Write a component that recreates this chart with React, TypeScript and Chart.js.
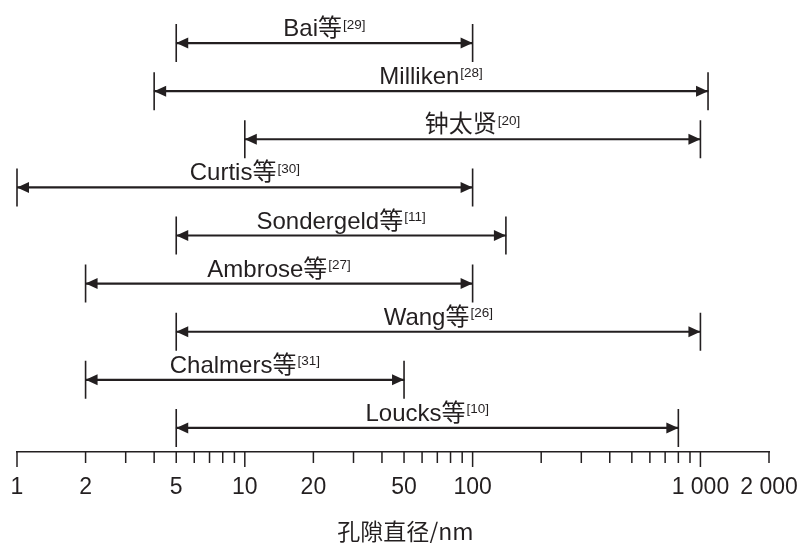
import React, { useEffect, useRef } from 'react';
import { Chart, registerables } from 'chart.js';

Chart.register(...registerables);

const studies = ['Bai等', 'Milliken', '钟太贤', 'Curtis等', 'Sondergeld等', 'Ambrose等', 'Wang等', 'Chalmers等', 'Loucks等'];
const refs = ['[29]', '[28]', '[20]', '[30]', '[11]', '[27]', '[26]', '[31]', '[10]'];
const minDiam = [5, 4, 10, 1, 5, 2, 5, 2, 5];
const maxDiam = [100, 1080, 1000, 100, 140, 100, 1000, 50, 800];

const tickValues = [1, 2, 3, 4, 5, 6, 7, 8, 9, 10, 20, 30, 40, 50, 60, 70, 80, 90, 100, 200, 300, 400, 500, 600, 700, 800, 900, 1000, 2000];
const labeledTicks = [1, 2, 5, 10, 20, 50, 100, 1000, 2000];
const tickLabels = ['1', '2', '5', '10', '20', '50', '100', '1 000', '2 000'];
const decadeTicks = [1, 10, 100, 1000];
const axisTitle = '孔隙直径/nm';

const INK = '#231f20';
const MAIN_FONT = '24px "Liberation Sans", Arial, "Noto Sans CJK SC", sans-serif';
const SUP_FONT = '13.5px "Liberation Sans", Arial, sans-serif';
const TITLE_FONT = '23px "Noto Sans CJK SC", "Liberation Sans", sans-serif';

const rangePlugin = {
  id: 'rangeArrows',
  afterDatasetsDraw(chart: any) {
    const ctx = chart.ctx as CanvasRenderingContext2D;
    const xs = chart.scales.x;
    const ys = chart.scales.y;
    ctx.save();
    ctx.strokeStyle = INK;
    ctx.fillStyle = INK;
    studies.forEach((name, i) => {
      const y = ys.getPixelForValue(i);
      const x0 = xs.getPixelForValue(minDiam[i]);
      const x1 = xs.getPixelForValue(maxDiam[i]);
      // end caps
      ctx.lineWidth = 1.6;
      ctx.beginPath();
      ctx.moveTo(x0, y - 19);
      ctx.lineTo(x0, y + 19);
      ctx.moveTo(x1, y - 19);
      ctx.lineTo(x1, y + 19);
      ctx.stroke();
      // arrow heads
      ctx.beginPath();
      ctx.moveTo(x0, y);
      ctx.lineTo(x0 + 12, y - 5.5);
      ctx.lineTo(x0 + 12, y + 5.5);
      ctx.closePath();
      ctx.moveTo(x1, y);
      ctx.lineTo(x1 - 12, y - 5.5);
      ctx.lineTo(x1 - 12, y + 5.5);
      ctx.closePath();
      ctx.fill();
      // label
      ctx.font = MAIN_FONT;
      const w1 = ctx.measureText(name).width;
      ctx.font = SUP_FONT;
      const w2 = ctx.measureText(refs[i]).width;
      const cx = (x0 + x1) / 2;
      const start = cx - (w1 + w2 + 1) / 2;
      ctx.textAlign = 'left';
      ctx.textBaseline = 'alphabetic';
      ctx.font = MAIN_FONT;
      ctx.fillText(name, start, y - 7);
      ctx.font = SUP_FONT;
      ctx.fillText(refs[i], start + w1 + 1, y - 14.5);
    });
    // axis tick marks
    const ay = chart.chartArea.bottom;
    ctx.lineWidth = 1.5;
    tickValues.forEach((v) => {
      const x = xs.getPixelForValue(v);
      const len = decadeTicks.includes(v) ? 15 : 11;
      ctx.beginPath();
      ctx.moveTo(x, ay);
      ctx.lineTo(x, ay + len);
      ctx.stroke();
    });
    // axis title
    ctx.font = TITLE_FONT;
    ctx.textAlign = 'center';
    ctx.textBaseline = 'middle';
    ctx.fillStyle = INK;
    ctx.fillText(axisTitle, chart.width / 2 + 7, chart.height - 11.5);
    ctx.restore();
  },
};

export default function App() {
  const canvasRef = useRef<HTMLCanvasElement | null>(null);

  useEffect(() => {
    if (!canvasRef.current) return;
    const chart = new Chart(canvasRef.current, {
      type: 'bar',
      data: {
        labels: studies,
        datasets: [
          {
            data: minDiam.map((m, i) => [m, maxDiam[i]]) as any,
            backgroundColor: INK,
            borderWidth: 0,
            barThickness: 1.5,
          },
        ],
      },
      options: {
        indexAxis: 'y',
        responsive: false,
        animation: false,
        layout: { padding: { top: 19, left: 17, right: 28, bottom: 0 } },
        plugins: {
          legend: { display: false },
          tooltip: { enabled: false },
        },
        scales: {
          x: {
            type: 'logarithmic',
            min: 1,
            max: 2000,
            grid: { display: false, drawTicks: false },
            border: { display: true, color: INK, width: 1.5 },
            afterBuildTicks: (scale: any) => {
              scale.ticks = tickValues.map((v) => ({ value: v }));
            },
            afterFit: (scale: any) => {
              scale.height = 91;
              scale.paddingLeft = 0;
              scale.paddingRight = 0;
            },
            ticks: {
              autoSkip: false,
              maxRotation: 0,
              minRotation: 0,
              padding: 22,
              color: INK,
              font: { family: '"Liberation Sans", Arial, sans-serif', size: 23 },
              callback: (v: any) => {
                const idx = labeledTicks.indexOf(Number(v));
                return idx >= 0 ? tickLabels[idx] : '';
              },
            },
          },
          y: {
            type: 'category',
            display: false,
            offset: true,
          },
        },
      },
      plugins: [rangePlugin],
    });
    return () => chart.destroy();
  }, []);

  return (
    <div style={{ position: 'absolute', left: 0, top: 0, width: 797, height: 543, background: '#fff' }}>
      <canvas ref={canvasRef} width={797} height={543} />
    </div>
  );
}
